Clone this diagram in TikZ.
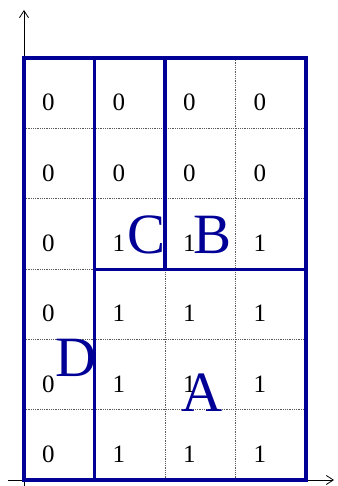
\documentclass[tikz,border=0pt]{standalone}
\usepackage{fontspec}
\setmainfont{Liberation Serif}
\usetikzlibrary{arrows.meta}
\definecolor{regblue}{RGB}{0,0,150}
\begin{document}
\begin{tikzpicture}[x=1pt,y=1pt,
  num/.style={font=\fontsize{25}{25}\selectfont, inner sep=0pt},
  big/.style={font=\fontsize{57}{57}\selectfont, text=regblue, inner sep=0pt},
  region/.style={draw=regblue, line width=3.4pt},
  gridline/.style={draw=gray!70!black, densely dotted, line width=0.8pt},
  axis/.style={draw=black, line width=0.8pt, -{Straight Barb[length=7pt,width=9pt]}}]
\useasboundingbox (0,0) rectangle (337,486);
% grid
\foreach \i in {1,...,5} {\draw[gridline] (24,{428-70.33*\i}) -- (306,{428-70.33*\i});}
\foreach \j in {1,2,3} {\draw[gridline] ({24+70.5*\j},6) -- ({24+70.5*\j},428);}
% axes
\coordinate (xs) at (8,6);
\coordinate (xe) at (334,6);
\coordinate (ys) at (24,0);
\coordinate (ye) at (24,476);
\draw[axis] (xs) -- (xe);
\draw[axis] (ys) -- (ye);
% numbers
\foreach \r/\vals in {0/{0,0,0,0},1/{0,0,0,0},2/{0,1,1,1},3/{0,1,1,1},4/{0,1,1,1},5/{0,1,1,1}} {
  \foreach \v [count=\c from 0] in \vals {
    \node[num] (n\r\c) at ({59.25+70.5*\c-11},{486-(93.2+70.33*\r+9.5)}) {\v};
  }
}
% regions
\draw[region] (24,6) rectangle (94.5,428);
\draw[region] (94.5,216.7) rectangle (165,428);
\draw[region] (165,216.7) rectangle (306,428);
\draw[region] (94.5,6) rectangle (306,216.7);
% letters
\node[big] (C) at (147,251) {C};
\node[big] (B) at (213,251) {B};
\node[big] (D) at (76,128) {D};
\node[big] (A) at (202,93) {A};
\end{tikzpicture}
\end{document}
